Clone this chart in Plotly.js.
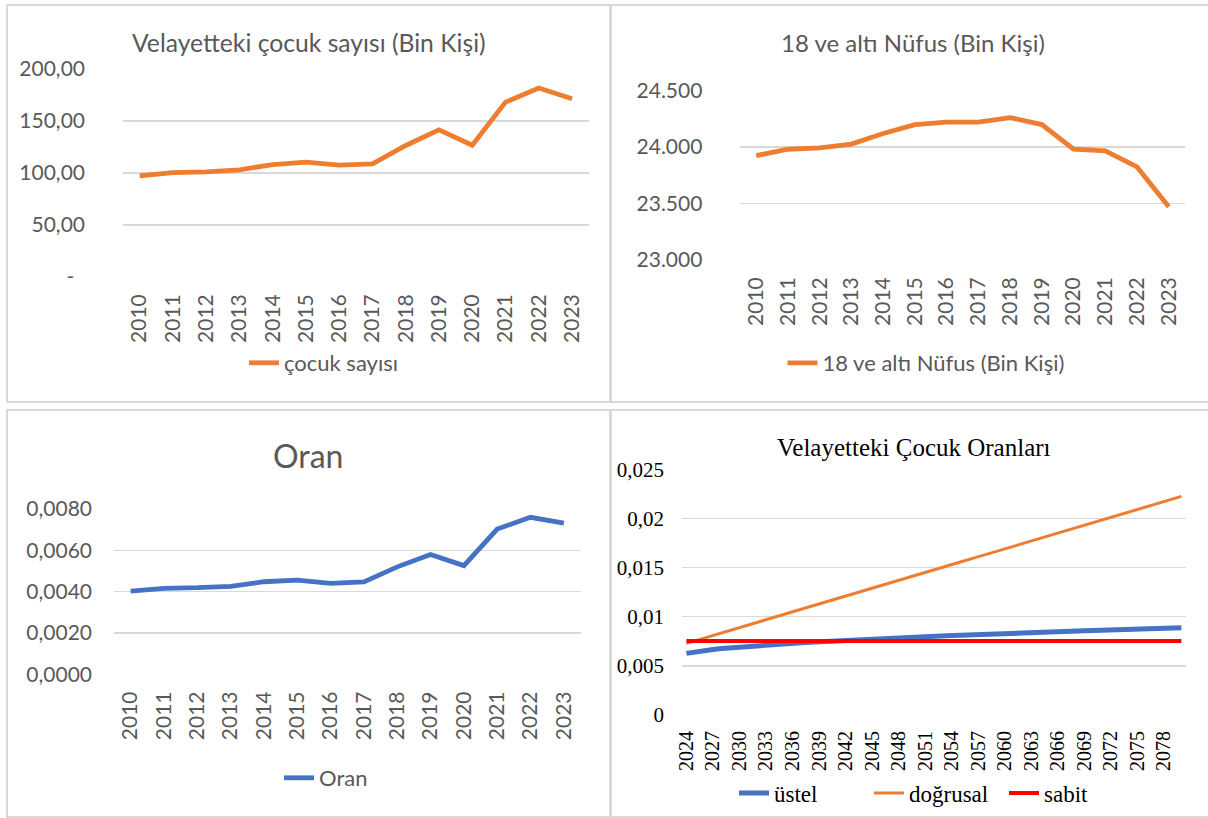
<!DOCTYPE html>
<html>
<head>
<meta charset="utf-8">
<script src="https://cdn.plot.ly/plotly-3.0.1.min.js"></script>
<style>
html, body { margin: 0; padding: 0; background: #ffffff; }
#chart { width: 1208px; height: 818px; }
</style>
</head>
<body>
<div id="chart"></div>
<script>
// ---------- DATA ----------
const years = [2010, 2011, 2012, 2013, 2014, 2015, 2016, 2017, 2018, 2019, 2020, 2021, 2022, 2023];

// Panel 1: Velayetteki çocuk sayısı (Bin Kişi)
const cocukSayisi = [97.1, 100.3, 101.0, 102.9, 108.0, 110.3, 107.4, 108.7, 126.3, 141.3, 126.6, 167.9, 181.4, 171.2];
const p1TickVals = [0, 50, 100, 150, 200];
const p1TickText = ['-\u00a0\u00a0', '50,00', '100,00', '150,00', '200,00'];

// Panel 2: 18 ve altı Nüfus (Bin Kişi)
const nufus18 = [23923, 23979, 23991, 24024, 24118, 24197, 24218, 24218, 24259, 24197, 23979, 23965, 23823, 23470];
const p2TickVals = [23000, 23500, 24000, 24500];
const p2TickText = ['23.000', '23.500', '24.000', '24.500'];

// Panel 3: Oran
const oran = [0.00403, 0.00416, 0.00419, 0.00426, 0.00448, 0.00456, 0.00440, 0.00447, 0.00520, 0.00580, 0.00526, 0.00703, 0.00760, 0.00732];
const p3TickVals = [0, 0.002, 0.004, 0.006, 0.008];
const p3TickText = ['0,0000', '0,0020', '0,0040', '0,0060', '0,0080'];

// Panel 4: Velayetteki Çocuk Oranları (projeksiyon)
const projYears = [2024, 2025, 2026, 2027, 2028, 2029, 2030, 2031, 2032, 2033, 2034, 2035, 2036, 2037, 2038, 2039,
  2040, 2041, 2042, 2043, 2044, 2045, 2046, 2047, 2048, 2049, 2050, 2051, 2052, 2053, 2054, 2055, 2056, 2057, 2058,
  2059, 2060, 2061, 2062, 2063, 2064, 2065, 2066, 2067, 2068, 2069, 2070, 2071, 2072, 2073, 2074, 2075, 2076, 2077,
  2078, 2079, 2080];
const ustel = [0.00627, 0.00643, 0.00656, 0.00667, 0.00676, 0.00684, 0.00692, 0.00700, 0.00706, 0.00713, 0.00719,
  0.00725, 0.00731, 0.00736, 0.00741, 0.00746, 0.00751, 0.00756, 0.00760, 0.00765, 0.00769, 0.00774, 0.00778, 0.00782,
  0.00786, 0.00790, 0.00794, 0.00798, 0.00801, 0.00805, 0.00809, 0.00812, 0.00816, 0.00819, 0.00822, 0.00826, 0.00829,
  0.00832, 0.00836, 0.00839, 0.00842, 0.00845, 0.00848, 0.00851, 0.00854, 0.00857, 0.00860, 0.00863, 0.00866, 0.00868,
  0.00871, 0.00874, 0.00877, 0.00879, 0.00882, 0.00885, 0.00888];
const dogrusal = [0.00729, 0.00756, 0.00782, 0.00809, 0.00836, 0.00863, 0.00889, 0.00916, 0.00943, 0.00969, 0.00996,
  0.01023, 0.01049, 0.01076, 0.01103, 0.01130, 0.01156, 0.01183, 0.01210, 0.01236, 0.01263, 0.01290, 0.01316, 0.01343,
  0.01370, 0.01397, 0.01423, 0.01450, 0.01477, 0.01503, 0.01530, 0.01557, 0.01583, 0.01610, 0.01637, 0.01664, 0.01690,
  0.01717, 0.01744, 0.01770, 0.01797, 0.01824, 0.01850, 0.01877, 0.01904, 0.01931, 0.01957, 0.01984, 0.02011, 0.02037,
  0.02064, 0.02091, 0.02117, 0.02144, 0.02171, 0.02198, 0.02224];
const sabit = [0.00752, 0.00752, 0.00752, 0.00752, 0.00752, 0.00752, 0.00752, 0.00752, 0.00752, 0.00752, 0.00752,
  0.00752, 0.00752, 0.00752, 0.00752, 0.00752, 0.00752, 0.00752, 0.00752, 0.00752, 0.00752, 0.00752, 0.00752, 0.00752,
  0.00752, 0.00752, 0.00752, 0.00752, 0.00752, 0.00752, 0.00752, 0.00752, 0.00752, 0.00752, 0.00752, 0.00752, 0.00752,
  0.00752, 0.00752, 0.00752, 0.00752, 0.00752, 0.00752, 0.00752, 0.00752, 0.00752, 0.00752, 0.00752, 0.00752, 0.00752,
  0.00752, 0.00752, 0.00752, 0.00752, 0.00752, 0.00752, 0.00752];
const projTickVals = [2024, 2027, 2030, 2033, 2036, 2039, 2042, 2045, 2048, 2051, 2054, 2057, 2060, 2063, 2066, 2069, 2072, 2075, 2078];
const p4TickVals = [0, 0.005, 0.01, 0.015, 0.02, 0.025];
const p4TickText = ['0', '0,005', '0,01', '0,015', '0,02', '0,025'];

const titles = ['Velayetteki çocuk sayısı (Bin Kişi)', '18 ve altı Nüfus (Bin Kişi)', 'Oran', 'Velayetteki Çocuk Oranları'];

// ---------- STYLE ----------
const W = 1208, H = 818;
const fx = p => p / W;
const fy = p => 1 - p / H;
const SANS = 'Lato, Carlito, Calibri, sans-serif';
const SERIF = '"Liberation Serif", "Times New Roman", serif';
const GREY = '#595959';
const GRID = '#D9D9D9';
const ORANGE = '#ED7D31';
const BLUE = '#4472C4';
const RED = '#FF0000';

const traces = [
  { x: years, y: cocukSayisi, name: 'çocuk sayısı', type: 'scatter', mode: 'lines',
    line: { color: ORANGE, width: 4.8 }, xaxis: 'x', yaxis: 'y', legend: 'legend' },
  { x: years, y: nufus18, name: '18 ve altı Nüfus (Bin Kişi)', type: 'scatter', mode: 'lines',
    line: { color: ORANGE, width: 4.8 }, xaxis: 'x2', yaxis: 'y2', legend: 'legend2' },
  { x: years, y: oran, name: 'Oran', type: 'scatter', mode: 'lines',
    line: { color: BLUE, width: 4.8 }, xaxis: 'x3', yaxis: 'y3', legend: 'legend3' },
  { x: projYears, y: ustel, name: 'üstel', type: 'scatter', mode: 'lines',
    line: { color: BLUE, width: 5 }, xaxis: 'x4', yaxis: 'y4', legend: 'legend4' },
  { x: projYears, y: dogrusal, name: 'doğrusal', type: 'scatter', mode: 'lines',
    line: { color: ORANGE, width: 3 }, xaxis: 'x4', yaxis: 'y4', legend: 'legend4' },
  { x: projYears, y: sabit, name: 'sabit', type: 'scatter', mode: 'lines',
    line: { color: RED, width: 4 }, xaxis: 'x4', yaxis: 'y4', legend: 'legend4' }
];

function xAxis(domain, range, tickvals, font, standoff, anchor) {
  return {
    domain: domain, range: range, anchor: anchor,
    tickmode: 'array', tickvals: tickvals, ticktext: tickvals.map(String),
    tickangle: -90, ticks: '', showgrid: false, zeroline: false, showline: false,
    tickfont: font, ticklabelstandoff: standoff, fixedrange: true
  };
}
function yAxis(domain, range, tickvals, ticktext, font, standoff, anchor) {
  return {
    domain: domain, range: range, anchor: anchor,
    tickmode: 'array', tickvals: tickvals, ticktext: ticktext,
    ticks: '', showgrid: true, gridcolor: GRID, gridwidth: 1.5,
    zeroline: false, showline: false, tickfont: font, ticklabelstandoff: standoff, fixedrange: true
  };
}

const sansTick = { family: SANS, size: 21, color: GREY };
const serifTick = { family: SERIF, size: 20, color: '#000000' };
const serifYTick = { family: SERIF, size: 21, color: '#000000' };

const layout = {
  width: W, height: H,
  margin: { l: 0, r: 0, t: 0, b: 0 },
  paper_bgcolor: '#ffffff', plot_bgcolor: 'rgba(0,0,0,0)',
  showlegend: true,
  xaxis:  xAxis([fx(123), fx(588.7)], [2009.5, 2023.5], years, sansTick, 12, 'y'),
  yaxis:  yAxis([fy(277), fy(68.7)], [0, 200], p1TickVals, p1TickText, sansTick, 37, 'x'),
  xaxis2: xAxis([fx(740.4), fx(1184.6)], [2009.5, 2023.5], years, sansTick, 12, 'y2'),
  yaxis2: yAxis([fy(260), fy(90.3)], [23000, 24500], p2TickVals, p2TickText, sansTick, 37, 'x2'),
  xaxis3: xAxis([fx(114), fx(580.5)], [2009.5, 2023.5], years, sansTick, 12, 'y3'),
  yaxis3: yAxis([fy(674.3), fy(509)], [0, 0.008], p3TickVals, p3TickText, sansTick, 21, 'x3'),
  xaxis4: xAxis([fx(682), fx(1185.8)], [2023.5, 2080.5], projTickVals, serifTick, 11, 'y4'),
  yaxis4: yAxis([fy(715), fy(469.3)], [0, 0.025], p4TickVals, p4TickText, serifYTick, 17, 'x4'),
  legend:  { x: fx(324), y: fy(363), xanchor: 'center', yanchor: 'middle', orientation: 'h',
             font: { family: SANS, size: 22, color: GREY }, bgcolor: 'rgba(0,0,0,0)' },
  legend2: { x: fx(926), y: fy(363), xanchor: 'center', yanchor: 'middle', orientation: 'h',
             font: { family: SANS, size: 22, color: GREY }, bgcolor: 'rgba(0,0,0,0)' },
  legend3: { x: fx(326), y: fy(778), xanchor: 'center', yanchor: 'middle', orientation: 'h',
             font: { family: SANS, size: 22, color: GREY }, bgcolor: 'rgba(0,0,0,0)' },
  legend4: { x: fx(734), y: fy(793), xanchor: 'left', yanchor: 'middle', orientation: 'h',
             entrywidth: 90, entrywidthmode: 'pixels',
             font: { family: SERIF, size: 23, color: '#000000' }, bgcolor: 'rgba(0,0,0,0)' },
  annotations: [
    { text: titles[0], x: fx(309), y: fy(43), xref: 'paper', yref: 'paper', showarrow: false,
      xanchor: 'center', yanchor: 'middle', font: { family: SANS, size: 24.7, color: GREY } },
    { text: titles[1], x: fx(913), y: fy(43), xref: 'paper', yref: 'paper', showarrow: false,
      xanchor: 'center', yanchor: 'middle', font: { family: SANS, size: 24, color: GREY } },
    { text: titles[2], x: fx(308), y: fy(455), xref: 'paper', yref: 'paper', showarrow: false,
      xanchor: 'center', yanchor: 'middle', font: { family: SANS, size: 32, color: GREY } },
    { text: titles[3], x: fx(914), y: fy(447), xref: 'paper', yref: 'paper', showarrow: false,
      xanchor: 'center', yanchor: 'middle', font: { family: SERIF, size: 25, color: '#000000' } }
  ],
  shapes: [
    { type: 'rect', xref: 'paper', yref: 'paper', x0: fx(7), x1: fx(610), y0: fy(402), y1: fy(5),
      line: { color: GRID, width: 2 }, layer: 'below' },
    { type: 'rect', xref: 'paper', yref: 'paper', x0: fx(611), x1: fx(1215), y0: fy(402), y1: fy(5),
      line: { color: GRID, width: 2 }, layer: 'below' },
    { type: 'rect', xref: 'paper', yref: 'paper', x0: fx(7), x1: fx(610), y0: fy(817), y1: fy(410),
      line: { color: GRID, width: 2 }, layer: 'below' },
    { type: 'rect', xref: 'paper', yref: 'paper', x0: fx(611), x1: fx(1215), y0: fy(817), y1: fy(410),
      line: { color: GRID, width: 2 }, layer: 'below' }
  ]
};

Plotly.newPlot('chart', traces, layout, { staticPlot: true, displayModeBar: false });
</script>
</body>
</html>
